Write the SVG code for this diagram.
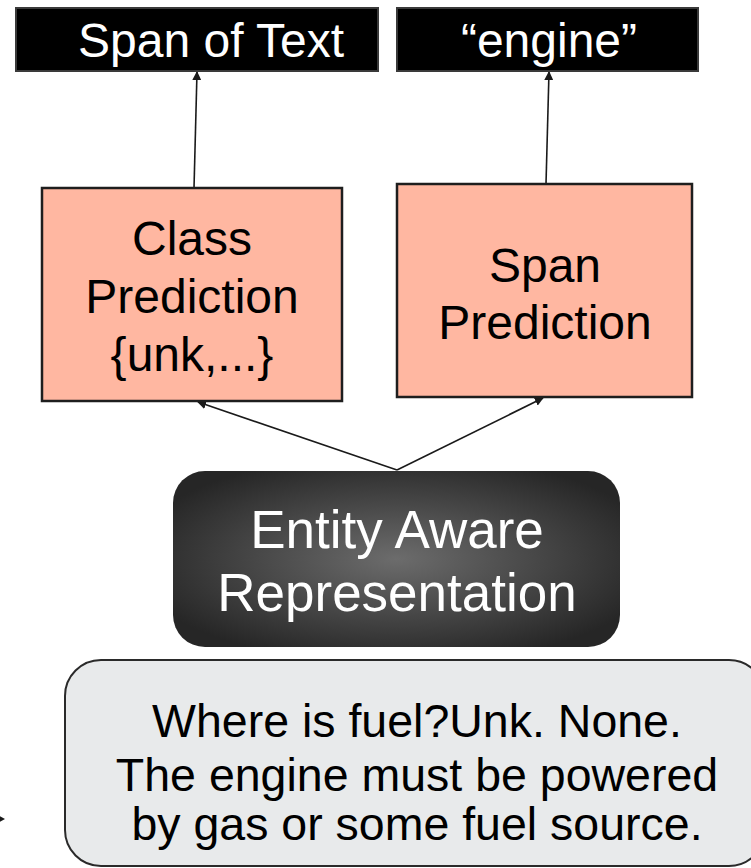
<svg xmlns="http://www.w3.org/2000/svg" width="751" height="868" viewBox="0 0 751 868">
  <style>
    .lbl { font-family: "Liberation Sans", Arial, sans-serif; text-anchor: middle; }
    .out rect { fill: #000; stroke: #3a3a3a; stroke-width: 2; }
    .out text { fill: #fff; font-size: 48px; }
    .head rect { fill: #ffb7a1; stroke: #1e1e1e; stroke-width: 2.5; }
    .head text { fill: #000; font-size: 48px; }
    .rep text { fill: #fff; font-size: 53px; }
    .ctx rect { fill: #e8eaeb; stroke: #2a2a2a; stroke-width: 2; }
    .ctx text { fill: #000; font-size: 46.5px; }
    .edge { stroke: #1a1a1a; stroke-width: 1.6; fill: none; marker-end: url(#tip); }
  </style>
  <defs>
    <marker id="tip" viewBox="0 0 10 10" refX="9" refY="5" markerWidth="9" markerHeight="9" markerUnits="userSpaceOnUse" orient="auto">
      <path d="M0,0 L10,5 L0,10 z" fill="#1a1a1a"/>
    </marker>
    <radialGradient id="repFill" cx="0.5" cy="0.5" r="0.6">
      <stop offset="0" stop-color="#6c6c6c"/>
      <stop offset="1" stop-color="#262626"/>
    </radialGradient>
  </defs>

  <g id="connectors">
    <line class="edge" x1="194" y1="188" x2="197" y2="72"/>
    <line class="edge" x1="546" y1="184" x2="549" y2="72"/>
    <line class="edge" x1="397" y1="470" x2="198" y2="402"/>
    <line class="edge" x1="397" y1="470" x2="543" y2="398"/>
    <path d="M-4,814 L5,819 L-4,824 z" fill="#1a1a1a"/>
  </g>

  <g id="span-of-text" class="out">
    <rect x="16" y="8" width="362" height="63"/>
    <text class="lbl" x="211" y="57">Span of Text</text>
  </g>

  <g id="engine" class="out">
    <rect x="397" y="8" width="301" height="63"/>
    <text class="lbl" x="549" y="57">“engine”</text>
  </g>

  <g id="class-prediction" class="head">
    <rect x="42" y="188" width="300" height="213"/>
    <text class="lbl" x="192" y="255">Class</text>
    <text class="lbl" x="192" y="313">Prediction</text>
    <text class="lbl" x="192" y="371">{unk,...}</text>
  </g>

  <g id="span-prediction" class="head">
    <rect x="397" y="184" width="295" height="213"/>
    <text class="lbl" x="545" y="282">Span</text>
    <text class="lbl" x="545" y="339">Prediction</text>
  </g>

  <g id="entity-aware-representation" class="rep">
    <rect x="173" y="471" width="447" height="176" rx="32" ry="32" fill="url(#repFill)"/>
    <text class="lbl" x="397" y="548">Entity Aware</text>
    <text class="lbl" x="397" y="611">Representation</text>
  </g>

  <g id="context" class="ctx">
    <rect x="65" y="660" width="700" height="206" rx="36" ry="36"/>
    <text class="lbl" x="417" y="737">Where is fuel?Unk. None.</text>
    <text class="lbl" x="417" y="791">The engine must be powered</text>
    <text class="lbl" x="417" y="840">by gas or some fuel source.</text>
  </g>
</svg>
